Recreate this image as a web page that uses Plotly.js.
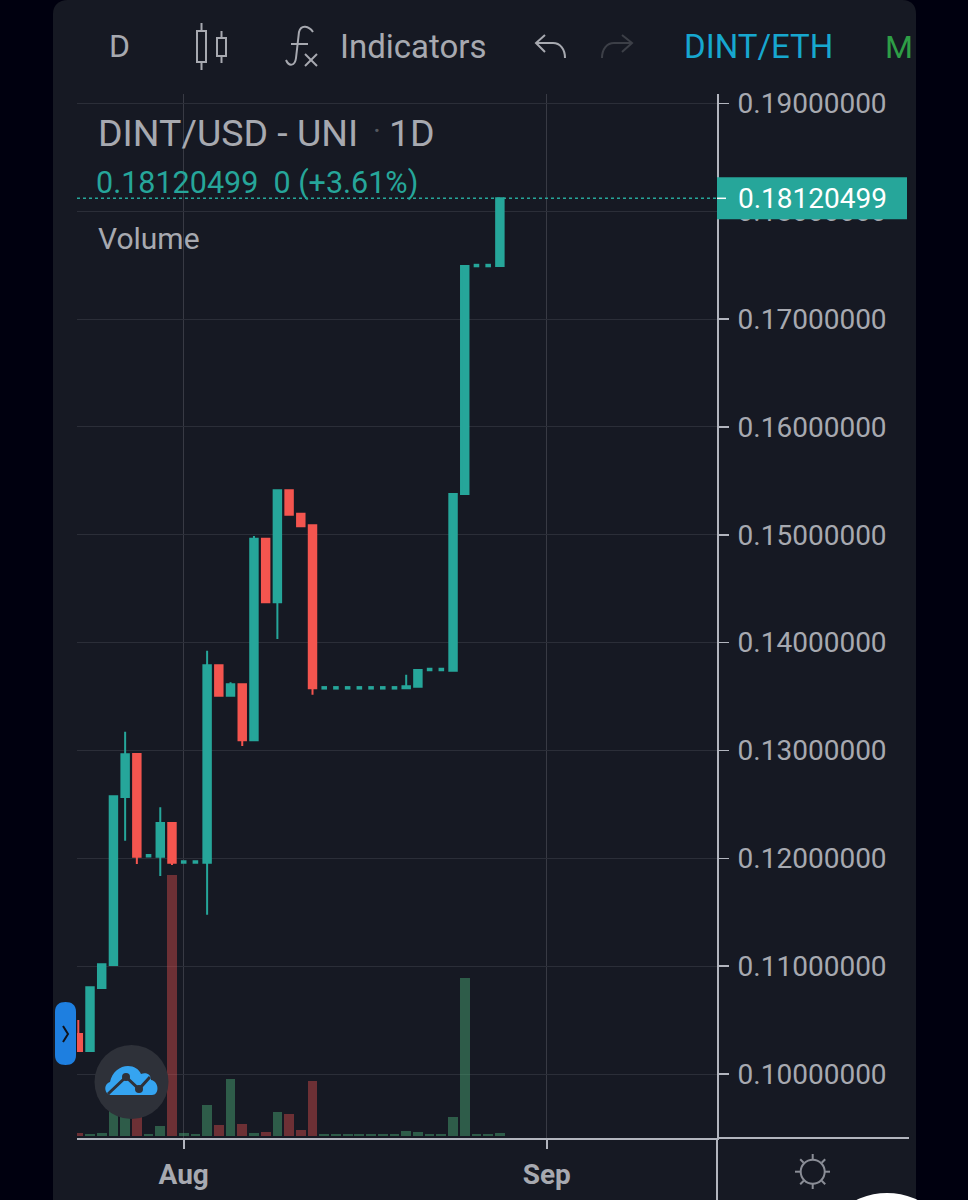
<!DOCTYPE html>
<html><head><meta charset="utf-8">
<script src="https://cdn.plot.ly/plotly-3.0.1.min.js"></script>
<style>html,body{margin:0;padding:0;background:#00000f;overflow:hidden}#c{width:968px;height:1200px}</style>
</head><body><div id="c"></div>
<script>
const dates = ['2021-07-23','2021-07-24','2021-07-25','2021-07-26','2021-07-27','2021-07-28','2021-07-29','2021-07-30','2021-07-31',
'2021-08-01','2021-08-02','2021-08-03','2021-08-04','2021-08-05','2021-08-06','2021-08-07','2021-08-08','2021-08-09','2021-08-10',
'2021-08-11','2021-08-12','2021-08-13','2021-08-14','2021-08-15','2021-08-16','2021-08-17','2021-08-18','2021-08-19','2021-08-20',
'2021-08-21','2021-08-22','2021-08-23','2021-08-24','2021-08-25','2021-08-26','2021-08-27','2021-08-28'];
const opens = [.10371,.10213,.10798,.11011,.12569,.12968,.12014,.12015,.12328,
.11958,.11958,.11960,.13790,.13508,.13614,.13095,.14964,.14375,.15413,
.15196,.15088,.13573,.13573,.13573,.13573,.13573,.13573,.13573,.13577,
.13592,.13743,.13743,.13740,.15379,.17489,.17489,.17493];
const closes = [.10213,.10804,.11017,.12575,.12965,.12015,.12024,.12328,.11960,
.11966,.11966,.13790,.13508,.13614,.13095,.14964,.14375,.15413,.15187,
.15079,.13577,.13581,.13581,.13581,.13581,.13581,.13581,.13581,.13596,
.13747,.13751,.13751,.15379,.17493,.17497,.17497,.18120499];
const highs = [.10501,.10804,.11017,.12575,.13174,.12968,.12024,.12473,.12328,
.11966,.11966,.13926,.13790,.13633,.13614,.14989,.14964,.15413,.15419,
.15196,.15088,.13581,.13581,.13581,.13581,.13581,.13581,.13581,.13703,
.13747,.13751,.13751,.15379,.17493,.17497,.17497,.18120499];
const lows = [.10213,.10213,.10798,.11011,.12164,.11948,.12014,.11836,.11938,
.11958,.11958,.11477,.13508,.13508,.13042,.13095,.14375,.14034,.15178,
.15079,.13518,.13573,.13573,.13573,.13573,.13573,.13573,.13573,.13577,
.13592,.13743,.13743,.13740,.15379,.17489,.17489,.17493];
const volumes = [3000,2300,3300,36000,31000,24000,2000,10000,261000,
2700,2300,31000,10700,57300,12000,2700,4000,23700,21700,
5700,54700,2300,2300,2300,2300,2300,2300,2300,5000,
4300,2300,2300,19300,157700,2300,2300,3300];
const lastPrice = 0.18120499;
const yTickStep = 0.01;
const priceRange = [0.094065, 0.190878];
const volumeRange = [-2000, 1042000];
const dateRange = ['2021-07-22T21:21:00','2021-09-15T12:58:00'];

const UP='#26a69a', DOWN='#f4554f', TXT='#a7a9b0', AXIS='#b2b5be', PANEL='#161923';
const L=77,R=717,T=94,B=1138;
const PX=x=>(x-L)/(R-L), PY=y=>(B-y)/(B-T);
const P=s=>s.replace(/(-?[\d.]+),(-?[\d.]+)/g,(m,a,b)=>PX(+a).toFixed(5)+','+PY(+b).toFixed(5));
const base={xref:'paper',yref:'paper'};
const path=(d,color,width,fill,layer)=>({...base,type:'path',path:P(d),line:{color:color||'rgba(0,0,0,0)',width:width||0},fillcolor:fill||'rgba(0,0,0,0)',layer:layer||'above'});
const line=(x0,y0,x1,y1,color,width,layer)=>({...base,type:'line',x0:PX(x0),x1:PX(x1),y0:PY(y0),y1:PY(y1),line:{color,width},layer:layer||'above'});
const circ=(cx,cy,r,fill,color,width,layer)=>({...base,type:'circle',x0:PX(cx-r),x1:PX(cx+r),y0:PY(cy+r),y1:PY(cy-r),fillcolor:fill||'rgba(0,0,0,0)',line:{color:color||'rgba(0,0,0,0)',width:width||0},layer:layer||'above'});
const txt=(s,x,y,size,color,extra)=>({xref:'paper',yref:'paper',x:PX(x),y:PY(y),text:s,showarrow:false,xanchor:'left',yanchor:'middle',borderpad:0,borderwidth:0,font:{family:'Roboto',size,color},...extra});

const ICON='#a7a9b0';
const shapes=[
 path('M53,1200 L53,14 C53,5 59,0 68,0 L902,0 C911,0 916,5 916,14 L916,1200 Z',null,0,PANEL,'below'),
 line(R,B,909,B,AXIS,2),
 line(R,B,R,1200,AXIS,2),
 {...base,type:'line',xref:'paper',yref:'y2',x0:0,x1:1,y0:lastPrice,y1:lastPrice,line:{color:UP,width:1.5,dash:'dot'},layer:'above'},
 {...base,type:'rect',xref:'paper',yref:'y2',x0:PX(717),x1:PX(907),y0:lastPrice-21/10783,y1:lastPrice+21/10783,fillcolor:UP,line:{width:0},layer:'above'},
 {...base,type:'line',xref:'paper',yref:'y2',x0:PX(717),x1:PX(726),y0:lastPrice,y1:lastPrice,line:{color:'#ffffff',width:1.5},layer:'above'},
 path('M197,31 L206,31 L206,62 L197,62 Z',ICON,2),
 line(201.5,23,201.5,31,ICON,2), line(201.5,62,201.5,70,ICON,2),
 path('M217,38 L226,38 L226,56 L217,56 Z',ICON,2),
 line(221.5,31,221.5,38,ICON,2), line(221.5,56,221.5,63,ICON,2),
 path('M313,32 C309,26 301,24 299,32 L296,58 C295,66 289,67 286,60',ICON,2),
 line(291,44,308,44,ICON,2),
 line(305,54,317,66,ICON,2), line(317,54,305,66,ICON,2),
 path('M545,35 L536,43 L545,52 M536,43 L553,43 C560,43 565,49 565,58',ICON,2),
 path('M622,35 L632,43 L622,52 M632,43 L614,43 C607,43 602,49 602,58','#3c3f47',2),
 path('M55,1012 C55,1005 59,1002 65.5,1002 C72,1002 76,1005 76,1012 L76,1055 C76,1062 72,1065 65.5,1065 C59,1065 55,1062 55,1055 Z',null,0,'#1e7fe0'),
 path('M63,1026 L68,1034 L63,1042','#10131c',2),
 circ(131.5,1082,37,'#2e3139'),
 path('M112,1095 C104,1095 103,1084 110,1082 C112,1072 120,1066 128,1066 C134,1066 139,1069 141,1074 C147,1072 151,1075 151,1080 C159,1081 160,1095 152,1095 Z',null,0,'#35a4f0'),
 path('M108,1094 L126,1077 L139,1089 L150,1077','#2e3139',3),
 circ(126,1077,4,'#2e3139'), circ(139,1089,4,'#2e3139'),
 circ(812.7,1171.7,12,null,'#8a8d96',2),
 line(812.7,1154,812.7,1159,'#8a8d96',2), line(812.7,1184,812.7,1189,'#8a8d96',2),
 line(795,1171.7,800,1171.7,'#8a8d96',2), line(825,1171.7,830,1171.7,'#8a8d96',2),
 line(800.2,1159.2,803.7,1162.7,'#8a8d96',2), line(821.7,1180.7,825.2,1184.2,'#8a8d96',2),
 line(825.2,1159.2,821.7,1162.7,'#8a8d96',2), line(803.7,1180.7,800.2,1184.2,'#8a8d96',2),
 circ(887,1263,70,'#ffffff')
];
const annotations=[
 txt('D',109,46,32,TXT),
 txt('Indicators',340,46,33,TXT),
 txt('DINT/ETH',684,47,33,'#17a7cf'),
 txt('M',885,47,32,'#2e9e46'),
 txt('DINT/USD - UNI',98,133,37.5,TXT),
 txt('·',373,131,30,'#55585f'),
 txt('1D',389,133,37.5,TXT),
 txt('0.18120499&nbsp;&nbsp;0 (+3.61%)',96,183,30.5,UP),
 txt('Volume',98,239,30,TXT),
 txt(lastPrice.toFixed(8),738,198.5,28,'#ffffff')
];
const isDoji=dates.map((d,i)=>Math.abs(closes[i]-opens[i])<0.00012);
const solid=a=>a.filter((v,i)=>!isDoji[i]);
const flat=a=>a.filter((v,i)=>isDoji[i]);
const traces=[
 {type:'bar',x:dates,y:volumes,yaxis:'y',width:0.83*86400000,hoverinfo:'skip',
  marker:{color:dates.map((d,i)=>closes[i]>=opens[i]?'rgba(76,175,120,0.45)':'rgba(239,83,80,0.4)'),line:{width:0}}},
 {type:'candlestick',x:solid(dates),open:solid(opens),high:solid(highs),low:solid(lows),close:solid(closes),yaxis:'y2',whiskerwidth:0,hoverinfo:'skip',
  increasing:{line:{color:UP,width:2},fillcolor:UP},
  decreasing:{line:{color:DOWN,width:2},fillcolor:DOWN}},
 {type:'scatter',mode:'markers',x:flat(dates),y:flat(closes),yaxis:'y2',hoverinfo:'skip',cliponaxis:true,
  marker:{symbol:'line-ew',size:4,color:UP,line:{color:UP,width:3.5}}}
];
const layout={
 width:968,height:1200,autosize:false,showlegend:false,bargap:0,boxgap:0.09,
 margin:{l:L,r:968-R,t:T,b:1200-B,pad:0},
 paper_bgcolor:'#00000f',plot_bgcolor:'rgba(0,0,0,0)',
 font:{family:'Roboto',color:TXT},
 xaxis:{type:'date',range:dateRange,tick0:'2021-08-01',dtick:'M1',tickformat:'%b',
  showgrid:true,gridcolor:'#383a44',gridwidth:1,zeroline:false,
  showline:true,linecolor:AXIS,linewidth:2,ticks:'outside',ticklen:9,tickwidth:2,tickcolor:AXIS,
  tickfont:{family:'Roboto',size:28,color:TXT,weight:700},ticklabelstandoff:1,
  rangeslider:{visible:false},fixedrange:true},
 yaxis:{range:volumeRange,visible:false,showgrid:false,zeroline:false,fixedrange:true},
 yaxis2:{overlaying:'y',anchor:'x',side:'right',range:priceRange,dtick:yTickStep,tick0:0.1,tickformat:'.8f',
  showgrid:true,gridcolor:'#2b2e38',gridwidth:1,zeroline:false,
  showline:true,linecolor:AXIS,linewidth:2,ticks:'outside',ticklen:10,tickwidth:1.5,tickcolor:AXIS,
  tickfont:{family:'Roboto',size:28,color:TXT},ticklabelstandoff:3,fixedrange:true},
 shapes,annotations
};
Plotly.newPlot('c',traces,layout,{displayModeBar:false,staticPlot:true});
</script></body></html>
